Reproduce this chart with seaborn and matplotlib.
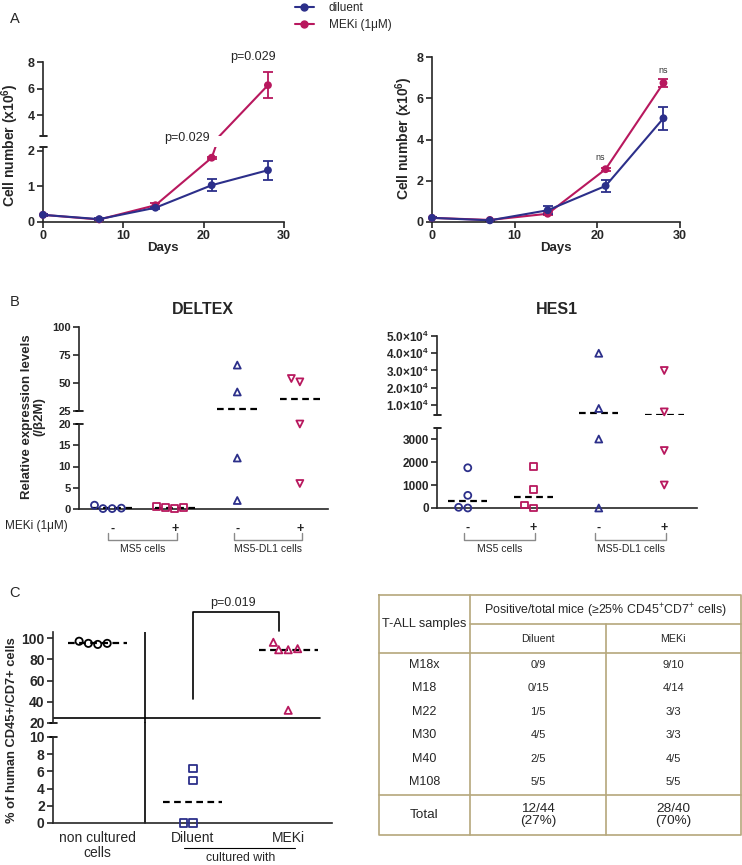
import matplotlib
matplotlib.use("Agg")
import matplotlib.pyplot as plt
import matplotlib.transforms as mtransforms
from matplotlib.lines import Line2D
import numpy as np
import pandas as pd
import seaborn as sns

# ---------------- data ----------------
days = [0, 7, 14, 21, 28]
a1_diluent = [0.20, 0.08, 0.40, 1.03, 1.45]
a1_diluent_err = [0.02, 0.02, 0.03, 0.17, 0.27]
a1_meki = [0.20, 0.07, 0.47, 1.80, 6.25]
a1_meki_err = [0.03, 0.02, 0.07, 0.03, 0.98]
a2_diluent = [0.20, 0.08, 0.57, 1.75, 5.03]
a2_diluent_err = [0.02, 0.02, 0.20, 0.28, 0.55]
a2_meki = [0.20, 0.10, 0.40, 2.56, 6.74]
a2_meki_err = [0.02, 0.02, 0.08, 0.08, 0.20]

b_groups = ['MS5 -', 'MS5 +', 'DL1 -', 'DL1 +']
b_signs = ['-', '+', '-', '+']
b_cells = ['MS5 cells', 'MS5-DL1 cells']
deltex = [[0.1, 0.1, 0.9, 0.2], [0.3, 0.1, 0.5, 0.3], [66, 42, 12, 2], [51, 54, 20, 6]]
hes1 = [[1750, 550, 0, 30], [1800, 800, 0, 130], [40000, 8000, 3000, 0], [30000, 6000, 2500, 1000]]

c_groups = ['non cultured\ncells', 'Diluent', 'MEKi']
c_values = [[95, 94, 95, 97], [6.3, 4.9, 0, 0], [96, 89, 89, 90, 32]]
c_threshold = 25

table_samples = ['M18x', 'M18', 'M22', 'M30', 'M40', 'M108']
table_diluent = ['0/9', '0/15', '1/5', '4/5', '2/5', '5/5']
table_meki = ['9/10', '4/14', '3/3', '3/3', '4/5', '5/5']
table_total = ['12/44\n(27%)', '28/40\n(70%)']

BLUE = '#2c2f8a'
RED = '#b8185e'
TAN = '#b5a77c'

sns.set_style('ticks')
plt.rcParams['font.family'] = ['Liberation Sans', 'DejaVu Sans']
plt.rcParams['mathtext.fontset'] = 'custom'
plt.rcParams['mathtext.rm'] = 'Liberation Sans'
plt.rcParams['mathtext.bf'] = 'Liberation Sans:bold'
plt.rcParams['mathtext.it'] = 'Liberation Sans:italic'

W, H = 742, 865
fig = plt.figure(figsize=(W / 100, H / 100), dpi=100)


def add_ax(l, t, r, b):
    ax = fig.add_axes([l / W, 1 - b / H, (r - l) / W, (b - t) / H])
    ax.patch.set_alpha(0)
    return ax


def style(ax, bottom=True):
    sns.despine(ax=ax, bottom=not bottom)
    for s in ax.spines.values():
        s.set_linewidth(1.2)
    ax.tick_params(width=1.2, length=4, pad=2)
    if not bottom:
        ax.tick_params(axis='x', bottom=False, labelbottom=False)
    ax.set_xlabel('')
    ax.set_ylabel('')


def yticks(ax, ticks, labels, size):
    ax.set_yticks(ticks)
    ax.set_yticklabels(labels, fontsize=size, fontweight='bold')


def cap(ax, y, px=3.5):
    # little end mark where the axis is broken
    w = ax.get_position().width * W
    ax.plot([-px / w, px / w], [y, y], transform=ax.transAxes, color='k',
            lw=1.2, clip_on=False)


def ftext(x, y, s, **kw):
    fig.text(x / W, 1 - y / H, s, **kw)


# ---------------- panel A ----------------
def growth(axes, dil, dil_err, mek, mek_err):
    df = pd.DataFrame({'day': days * 2, 'cells': dil + mek,
                       'err': dil_err + mek_err,
                       'cond': ['diluent'] * 5 + ['MEKi'] * 5})
    colors = {'diluent': BLUE, 'MEKi': RED}
    for ax in axes:
        lo, hi = ax.get_ylim()
        for cond, g in df.groupby('cond'):
            c = colors[cond]
            sns.lineplot(x=g['day'], y=g['cells'], color=c, lw=1.5, errorbar=None, ax=ax)
            ins = g[(g['cells'] >= lo) & (g['cells'] <= hi)]
            if len(ins):
                sns.scatterplot(x=ins['day'], y=ins['cells'], color=c, s=32,
                                edgecolor='none', ax=ax, clip_on=False, zorder=4)
                ax.errorbar(ins['day'], ins['cells'], yerr=ins['err'], fmt='none',
                            ecolor=c, capsize=3.5, elinewidth=1.3, capthick=1.3)
        ax.set_ylim(lo, hi)
        ax.set_xlim(0, 30)


a1_up = add_ax(43, 62, 284, 136)
a1_lo = add_ax(43, 147, 284, 222)
a1_up.set_ylim(2.42, 8)
a1_lo.set_ylim(0, 2.1)
growth([a1_up, a1_lo], a1_diluent, a1_diluent_err, a1_meki, a1_meki_err)
style(a1_up, bottom=False)
style(a1_lo)
yticks(a1_up, [4, 6, 8], ['4', '6', '8'], 9)
yticks(a1_lo, [0, 1, 2], ['0', '1', '2'], 9)
a1_lo.set_xticks([0, 10, 20, 30])
a1_lo.set_xticklabels(['0', '10', '20', '30'], fontsize=9, fontweight='bold')
cap(a1_up, 0)
cap(a1_lo, 1)
a1_up.text(17.9, 2.26, 'p=0.029', ha='center', va='center', fontsize=9, clip_on=False)
a1_up.text(26.1, 8.4, 'p=0.029', ha='center', va='center', fontsize=9, clip_on=False)

a2 = add_ax(432, 57, 680, 222)
a2.set_ylim(0, 8)
growth([a2], a2_diluent, a2_diluent_err, a2_meki, a2_meki_err)
style(a2)
yticks(a2, [0, 2, 4, 6, 8], ['0', '2', '4', '6', '8'], 9)
a2.set_xticks([0, 10, 20, 30])
a2.set_xticklabels(['0', '10', '20', '30'], fontsize=9, fontweight='bold')
a2.text(20.4, 3.15, 'ns', ha='center', va='center', fontsize=6.5, color='#333333')
a2.text(28, 7.33, 'ns', ha='center', va='center', fontsize=6.5, color='#333333')

ylab_a = 'Cell number (x10$^{\\mathbf{6}}$)'
ftext(10, 145, ylab_a, rotation=90, ha='center', va='center', fontsize=10, fontweight='bold')
ftext(404, 138, ylab_a, rotation=90, ha='center', va='center', fontsize=10, fontweight='bold')
ftext(163, 248, 'Days', ha='center', va='center', fontsize=9.5, fontweight='bold')
ftext(556, 248, 'Days', ha='center', va='center', fontsize=9.5, fontweight='bold')

handles = [Line2D([], [], color=BLUE, marker='o', ms=5, lw=1.5),
           Line2D([], [], color=RED, marker='o', ms=5, lw=1.5)]
fig.legend(handles, ['diluent', 'MEKi (1μM)'], loc='upper left',
           bbox_to_anchor=(290 / W, 1 + 3 / H), frameon=False, fontsize=8.5,
           handlelength=1.6, labelspacing=0.45, borderaxespad=0, handletextpad=1.3)


# ---------------- dot plots (B, C) ----------------
def dots(up, lo, groups, values, markers, colors, split, half, size=5):
    df = pd.DataFrame({'grp': [g for g, v in zip(groups, values) for _ in v],
                       'val': [x for v in values for x in v]})
    for ax, sub in ((up, df[df['val'] >= split]), (lo, df[df['val'] < split])):
        for g, m, c in zip(groups, markers, colors):
            s = sub[sub['grp'] == g]
            if len(s) == 0:
                continue
            n0 = len(ax.collections)
            sns.swarmplot(data=s, x='grp', y='val', order=groups, marker=m,
                          color=c, size=size, ax=ax, clip_on=False, zorder=4)
            for coll in list(ax.collections[n0:]):
                # empty categories leave a marker at the canvas origin otherwise
                if len(coll.get_offsets()) == 0:
                    coll.remove()
                    continue
                coll.set_facecolor('none')
                coll.set_edgecolor(c)
                coll.set_linewidth(1.3)
    # dashed median line per group
    for i, v in enumerate(values):
        med = np.median(v)
        ax = up if med >= split else lo
        ax.hlines(med, i - half, i + half, colors='k', linestyles=(0, (3, 2)),
                  lw=1.6, zorder=3)


def cell_labels(ax, pairs):
    tr = mtransforms.blended_transform_factory(ax.transData, fig.transFigure)
    for (i0, i1), name in zip(pairs, b_cells):
        x0, x1 = i0 - 0.06, i1 + 0.03
        ax.plot([x0, x0, x1, x1], [1 - 533 / H, 1 - 540 / H, 1 - 540 / H, 1 - 533 / H],
                transform=tr, color='#8a8a8a', lw=1, clip_on=False)
        ax.text((x0 + x1) / 2, 1 - 549 / H, name, transform=tr, ha='center',
                va='center', fontsize=7.5)


b_markers = ['o', 's', '^', 'v']
b_colors = [BLUE, RED, BLUE, RED]

# DELTEX
d_up = add_ax(79, 327, 328, 411)
d_lo = add_ax(79, 424, 328, 509)
d_up.set_ylim(25, 100)
d_lo.set_ylim(0, 20)
for ax in (d_up, d_lo):
    ax.set_xlim(-0.53, 3.45)
dots(d_up, d_lo, b_groups, deltex, b_markers, b_colors, 22.5, 0.32)
for ax in (d_up, d_lo):
    ax.set_xlim(-0.53, 3.45)
style(d_up, bottom=False)
style(d_lo)
yticks(d_up, [25, 50, 75, 100], ['25', '50', '75', '100'], 8)
yticks(d_lo, [0, 5, 10, 15, 20], ['0', '5', '10', '15', '20'], 8)
d_lo.set_xticks(range(4))
d_lo.set_xticklabels(b_signs, fontsize=9, fontweight='bold')
d_lo.tick_params(axis='x', length=0, pad=10)
cap(d_up, 0)
cap(d_lo, 1)
cell_labels(d_lo, [(0, 1), (2, 3)])
ftext(203, 310, 'DELTEX', ha='center', va='center', fontsize=11.5, fontweight='bold')
ftext(33, 417, 'Relative expression levels\n(/β2M)', rotation=90, ha='center',
      va='center', fontsize=9.5, fontweight='bold', linespacing=1.1)
ftext(5, 526, 'MEKi (1μM)', ha='left', va='center', fontsize=8.5)

# HES1
h_up = add_ax(437, 336, 697, 415)
h_lo = add_ax(437, 428, 697, 508)
h_up.set_ylim(4200, 50000)
h_lo.set_ylim(0, 3480)
for ax in (h_up, h_lo):
    ax.set_xlim(-0.47, 3.5)
dots(h_up, h_lo, b_groups, hes1, b_markers, b_colors, 3500, 0.3)
for ax in (h_up, h_lo):
    ax.set_xlim(-0.47, 3.5)
style(h_up, bottom=False)
style(h_lo)
yticks(h_up, [10000, 20000, 30000, 40000, 50000],
       ['%d.0×10$^{\\mathbf{4}}$' % k for k in range(1, 6)], 8.5)
yticks(h_lo, [0, 1000, 2000, 3000], ['0', '1000', '2000', '3000'], 8.5)
h_lo.set_xticks(range(4))
h_lo.set_xticklabels(b_signs, fontsize=9, fontweight='bold')
h_lo.tick_params(axis='x', length=0, pad=10)
cap(h_up, 0)
cap(h_lo, 1)
cell_labels(h_lo, [(0, 1), (2, 3)])
ftext(557, 309, 'HES1', ha='center', va='center', fontsize=11.5, fontweight='bold')

# ---------------- panel C ----------------
c_up = add_ax(53, 632, 332, 723)
c_lo = add_ax(53, 737, 332, 823)
c_up.set_ylim(20, 105.7)
c_lo.set_ylim(0, 10)
for ax in (c_up, c_lo):
    ax.set_xlim(-0.47, 2.46)
dots(c_up, c_lo, c_groups, c_values, ['o', 's', '^'], ['k', BLUE, RED], 15, 0.31, size=5.2)
for ax in (c_up, c_lo):
    ax.set_xlim(-0.47, 2.46)
style(c_up, bottom=False)
style(c_lo)
yticks(c_up, [20, 40, 60, 80, 100], ['20', '40', '60', '80', '100'], 10)
yticks(c_lo, [0, 2, 4, 6, 8, 10], ['0', '2', '4', '6', '8', '10'], 10)
c_lo.set_xticks(range(3))
c_lo.set_xticklabels(c_groups, fontsize=10, linespacing=1.1)
c_lo.tick_params(axis='x', length=0, pad=6)
cap(c_up, 0)
cap(c_lo, 1)
c_up.axhline(c_threshold, xmin=0, xmax=0.957, color='k', lw=1.2)
c_up.axvline(0.5, color='k', lw=1.2)
c_lo.axvline(0.5, ymin=0, ymax=1 + 14 / 86, color='k', lw=1.2, clip_on=False)
c_up.plot([1, 1, 1.9, 1.9], [43, 125, 125, 107], color='k', lw=1.2, clip_on=False)
c_up.text(1.42, 133, 'p=0.019', ha='center', va='center', fontsize=9, clip_on=False)
trc = mtransforms.blended_transform_factory(c_lo.transData, fig.transFigure)
c_lo.plot([0.91, 2.07], [1 - 848 / H] * 2, transform=trc, color='k', lw=0.8, clip_on=False)
c_lo.text(1.5, 1 - 858 / H, 'cultured with', transform=trc, ha='center', va='center', fontsize=8.8)
ftext(12, 730, '% of human CD45+/CD7+ cells', rotation=90, ha='center', va='center',
      fontsize=9.3, fontweight='bold')

# ---------------- table ----------------
t = add_ax(371, 560, 742, 865)
t.set_xlim(371, 742)
t.set_ylim(865, 560)
t.axis('off')
L, R, T, B = 379, 740.5, 595, 835
c1, c2 = 470, 606
lk = dict(color=TAN, lw=1.2)
t.plot([L, R, R, L, L], [T, T, B, B, T], **lk)
t.plot([c1, c1], [T, B], **lk)
t.plot([c2, c2], [624, B], **lk)
t.plot([c1, R], [624, 624], **lk)
t.plot([L, R], [653, 653], **lk)
t.plot([L, R], [795, 795], **lk)
t.text((L + c1) / 2, 624, 'T-ALL samples', ha='center', va='center', fontsize=9.2)
t.text((c1 + R) / 2, 611, 'Positive/total mice (≥25% CD45$^{+}$CD7$^{+}$ cells)',
       ha='center', va='center', fontsize=8.9)
t.text((c1 + c2) / 2, 639, 'Diluent', ha='center', va='center', fontsize=7.7)
t.text((c2 + R) / 2, 639, 'MEKi', ha='center', va='center', fontsize=7.7)
for i, (s, d, m) in enumerate(zip(table_samples, table_diluent, table_meki)):
    y = 665 + i * 23.4
    t.text((L + c1) / 2, y, s, ha='center', va='center', fontsize=9)
    t.text((c1 + c2) / 2, y, d, ha='center', va='center', fontsize=8)
    t.text((c2 + R) / 2, y, m, ha='center', va='center', fontsize=8)
t.text((L + c1) / 2, 815, 'Total', ha='center', va='center', fontsize=9.7)
t.text((c1 + c2) / 2, 815, table_total[0], ha='center', va='center', fontsize=9.7, linespacing=1.1)
t.text((c2 + R) / 2, 815, table_total[1], ha='center', va='center', fontsize=9.7, linespacing=1.1)

ftext(15, 19, 'A', ha='center', va='center', fontsize=10.5)
ftext(15, 302, 'B', ha='center', va='center', fontsize=10.5)
ftext(15, 593, 'C', ha='center', va='center', fontsize=10.5)

fig.savefig('out.png', dpi=100)
